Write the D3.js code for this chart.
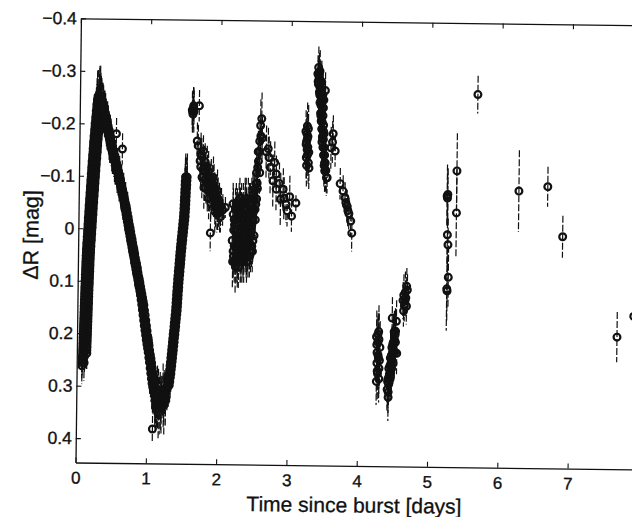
<!DOCTYPE html>
<html>
<head>
<meta charset="utf-8">
<script src="https://cdn.jsdelivr.net/npm/d3@7"></script>
<style>
  body { margin: 0; background: #fff; }
  text { font-family: "Liberation Sans", Arial, Helvetica, sans-serif; fill: #111; }
</style>
</head>
<body>
<svg id="chart" width="632" height="517"></svg>
<script>
// ---------------- DATA (time since burst [days], ΔR [mag], error [mag]) ----------------
const xTicks = [0, 1, 2, 3, 4, 5, 6, 7];
const xLabels = ["0", "1", "2", "3", "4", "5", "6", "7"];
const yTicks = [-0.4, -0.3, -0.2, -0.1, 0, 0.1, 0.2, 0.3, 0.4];
const yLabels = ["\u22120.4", "\u22120.3", "\u22120.2", "\u22120.1", "0", "0.1", "0.2", "0.3", "0.4"];

// first rise (dense, several overlapping runs)
const riseLeft = [
[0.075,0.262,0.035],[0.079,0.250,0.030],[0.082,0.238,0.035],[0.084,0.226,0.030],[0.086,0.214,0.040],[0.088,0.202,0.030],
[0.090,0.190,0.035],[0.092,0.178,0.030],[0.094,0.166,0.040],[0.096,0.154,0.030],[0.098,0.142,0.035],[0.100,0.130,0.030],
[0.102,0.118,0.040],[0.105,0.106,0.035],[0.107,0.094,0.030],[0.110,0.082,0.040],[0.112,0.070,0.035],[0.115,0.058,0.030],
[0.118,0.046,0.040],[0.122,0.034,0.035],[0.127,0.022,0.030],[0.131,0.010,0.040],[0.136,-0.002,0.035],[0.140,-0.014,0.030],
[0.145,-0.026,0.040],[0.149,-0.038,0.035],[0.154,-0.050,0.030],[0.159,-0.062,0.040],[0.164,-0.074,0.035],[0.169,-0.086,0.030],
[0.174,-0.098,0.040],[0.179,-0.110,0.035],[0.184,-0.122,0.030],[0.190,-0.134,0.040],[0.196,-0.146,0.035],[0.201,-0.158,0.040],
[0.207,-0.170,0.035],[0.214,-0.182,0.045],[0.220,-0.194,0.040],[0.227,-0.206,0.045],[0.234,-0.218,0.050],[0.241,-0.230,0.045],
[0.249,-0.242,0.055],[0.257,-0.252,0.050]
];
const riseLeft2 = [
[0.075,0.256,0.030],[0.079,0.244,0.035],[0.082,0.232,0.030],[0.084,0.220,0.040],[0.086,0.208,0.035],[0.088,0.196,0.030],
[0.090,0.184,0.040],[0.092,0.172,0.035],[0.094,0.160,0.030],[0.096,0.148,0.040],[0.098,0.136,0.035],[0.100,0.124,0.030],
[0.102,0.112,0.040],[0.105,0.100,0.035],[0.107,0.088,0.030],[0.110,0.076,0.040],[0.112,0.064,0.035],[0.115,0.052,0.030],
[0.118,0.040,0.040],[0.122,0.028,0.035],[0.127,0.016,0.030],[0.131,0.004,0.040],[0.136,-0.008,0.035],[0.140,-0.020,0.030],
[0.145,-0.032,0.040],[0.149,-0.044,0.035],[0.154,-0.056,0.030],[0.159,-0.068,0.040],[0.164,-0.080,0.035],[0.169,-0.092,0.030],
[0.174,-0.104,0.040],[0.179,-0.116,0.035],[0.184,-0.128,0.040],[0.190,-0.140,0.035],[0.196,-0.152,0.045],[0.201,-0.164,0.040],
[0.207,-0.176,0.045],[0.214,-0.188,0.040],[0.220,-0.200,0.045],[0.227,-0.212,0.050],[0.234,-0.224,0.045],[0.241,-0.236,0.050],
[0.249,-0.246,0.055]
];
const riseMid = [
[0.105,0.256,0.035],[0.109,0.244,0.030],[0.112,0.232,0.040],[0.114,0.220,0.035],[0.116,0.208,0.030],[0.118,0.196,0.040],
[0.120,0.184,0.035],[0.122,0.172,0.030],[0.124,0.160,0.040],[0.126,0.148,0.035],[0.128,0.136,0.030],[0.130,0.124,0.040],
[0.132,0.112,0.035],[0.135,0.100,0.030],[0.137,0.088,0.040],[0.140,0.076,0.035],[0.142,0.064,0.030],[0.145,0.052,0.040],
[0.148,0.040,0.035],[0.152,0.028,0.030],[0.157,0.016,0.040],[0.161,0.004,0.035],[0.166,-0.008,0.030],[0.170,-0.020,0.040],
[0.175,-0.032,0.035],[0.179,-0.044,0.030],[0.184,-0.056,0.040],[0.189,-0.068,0.035],[0.194,-0.080,0.030],[0.199,-0.092,0.040],
[0.204,-0.104,0.035],[0.209,-0.116,0.040],[0.214,-0.128,0.035],[0.220,-0.140,0.045],[0.226,-0.152,0.040],[0.231,-0.164,0.045],
[0.237,-0.176,0.040],[0.244,-0.188,0.045],[0.250,-0.200,0.050],[0.257,-0.212,0.045],[0.264,-0.224,0.050],[0.271,-0.236,0.045],
[0.279,-0.246,0.060]
];
const riseRight = [
[0.142,0.238,0.030],[0.144,0.226,0.035],[0.146,0.214,0.030],[0.148,0.202,0.040],[0.150,0.190,0.035],[0.152,0.178,0.030],
[0.154,0.166,0.040],[0.156,0.154,0.035],[0.158,0.142,0.030],[0.160,0.130,0.040],[0.162,0.118,0.035],[0.165,0.106,0.030],
[0.167,0.094,0.040],[0.170,0.082,0.035],[0.172,0.070,0.030],[0.175,0.058,0.040],[0.178,0.046,0.035],[0.182,0.034,0.030],
[0.187,0.022,0.040],[0.191,0.010,0.035],[0.196,-0.002,0.030],[0.200,-0.014,0.040],[0.205,-0.026,0.035],[0.209,-0.038,0.030],
[0.214,-0.050,0.040],[0.219,-0.062,0.035],[0.224,-0.074,0.040],[0.229,-0.086,0.035],[0.234,-0.098,0.045],[0.239,-0.110,0.040],
[0.244,-0.122,0.045],[0.250,-0.134,0.040],[0.256,-0.146,0.045],[0.261,-0.158,0.040],[0.267,-0.170,0.045],[0.274,-0.182,0.050],
[0.280,-0.194,0.045],[0.287,-0.206,0.050],[0.294,-0.218,0.045],[0.301,-0.230,0.050],[0.309,-0.242,0.045]
];
const riseRight2 = [
[0.142,0.232,0.035],[0.144,0.220,0.030],[0.146,0.208,0.040],[0.148,0.196,0.035],[0.150,0.184,0.030],[0.152,0.172,0.040],
[0.154,0.160,0.035],[0.156,0.148,0.030],[0.158,0.136,0.040],[0.160,0.124,0.035],[0.162,0.112,0.030],[0.165,0.100,0.040],
[0.167,0.088,0.035],[0.170,0.076,0.030],[0.172,0.064,0.040],[0.175,0.052,0.035],[0.178,0.040,0.030],[0.182,0.028,0.040],
[0.187,0.016,0.035],[0.191,0.004,0.030],[0.196,-0.008,0.040],[0.200,-0.020,0.035],[0.205,-0.032,0.030],[0.209,-0.044,0.040],
[0.214,-0.056,0.035],[0.219,-0.068,0.040],[0.224,-0.080,0.035],[0.229,-0.092,0.045],[0.234,-0.104,0.040],[0.239,-0.116,0.045],
[0.244,-0.128,0.040],[0.250,-0.140,0.045],[0.256,-0.152,0.040],[0.261,-0.164,0.045],[0.267,-0.176,0.050],[0.274,-0.188,0.045],
[0.280,-0.200,0.050],[0.287,-0.212,0.045],[0.294,-0.224,0.050],[0.301,-0.236,0.045]
];
const peakPts = [[0.280,-0.250,0.060],[0.290,-0.245,0.065],[0.300,-0.240,0.050],[0.525,-0.181,0.030],[0.613,-0.152,0.030]];

// decline to the minimum
const fallA = [
[0.275,-0.255,0.04],[0.295,-0.247,0.05],[0.315,-0.238,0.04],[0.335,-0.228,0.045],[0.355,-0.215,0.04],[0.375,-0.203,0.035],
[0.395,-0.190,0.04],[0.415,-0.177,0.035],[0.435,-0.165,0.04],[0.455,-0.154,0.035],[0.475,-0.144,0.04],[0.495,-0.134,0.035],
[0.515,-0.124,0.04],[0.535,-0.113,0.03],[0.555,-0.103,0.035],[0.575,-0.092,0.04],[0.595,-0.081,0.03],[0.615,-0.069,0.035],
[0.635,-0.057,0.04],[0.655,-0.042,0.03],[0.675,-0.028,0.035],[0.695,-0.014,0.04],[0.715,0.000,0.03],[0.735,0.014,0.035],
[0.755,0.028,0.04],[0.775,0.042,0.03],[0.795,0.055,0.035],[0.815,0.070,0.04],[0.835,0.083,0.03],[0.855,0.097,0.035],
[0.875,0.111,0.04],[0.895,0.125,0.035],[0.915,0.144,0.04],[0.935,0.164,0.035],[0.955,0.184,0.04],[0.975,0.202,0.035],
[0.995,0.219,0.04],[1.015,0.235,0.045],[1.035,0.254,0.04],[1.055,0.275,0.045],[1.075,0.294,0.05],[1.095,0.308,0.045]
];
const fallA2 = [
[0.285,-0.251,0.045],[0.305,-0.243,0.04],[0.325,-0.233,0.045],[0.345,-0.222,0.04],[0.365,-0.209,0.035],[0.385,-0.197,0.04],
[0.405,-0.184,0.035],[0.425,-0.171,0.04],[0.445,-0.160,0.035],[0.465,-0.149,0.04],[0.485,-0.139,0.035],[0.505,-0.129,0.04],
[0.525,-0.119,0.035],[0.545,-0.108,0.04],[0.565,-0.098,0.03],[0.585,-0.087,0.035],[0.605,-0.075,0.04],[0.625,-0.063,0.03],
[0.645,-0.050,0.035],[0.665,-0.035,0.04],[0.685,-0.021,0.03],[0.705,-0.007,0.035],[0.725,0.007,0.04],[0.745,0.021,0.03],
[0.765,0.035,0.035],[0.785,0.049,0.04],[0.805,0.063,0.03],[0.825,0.077,0.035],[0.845,0.090,0.04],[0.865,0.104,0.035],
[0.885,0.118,0.04],[0.905,0.135,0.035],[0.925,0.154,0.04],[0.945,0.174,0.035],[0.965,0.193,0.04],[0.985,0.211,0.045],
[1.005,0.227,0.04],[1.025,0.245,0.045],[1.045,0.265,0.05],[1.065,0.285,0.045],[1.085,0.301,0.05]
];
const fallMid = [
[0.30,-0.245,0.045],[0.32,-0.237,0.04],[0.34,-0.228,0.035],[0.36,-0.218,0.04],[0.38,-0.205,0.035],[0.40,-0.193,0.04],
[0.42,-0.180,0.035],[0.44,-0.167,0.04],[0.46,-0.155,0.035],[0.48,-0.144,0.04],[0.50,-0.134,0.035],[0.52,-0.124,0.04],
[0.54,-0.114,0.035],[0.56,-0.103,0.04],[0.58,-0.093,0.035],[0.60,-0.082,0.04],[0.62,-0.071,0.035],[0.64,-0.059,0.04],
[0.66,-0.047,0.035],[0.68,-0.032,0.04],[0.70,-0.018,0.035],[0.72,-0.004,0.04],[0.74,0.010,0.035],[0.76,0.024,0.04],
[0.78,0.038,0.035],[0.80,0.052,0.04],[0.82,0.065,0.035],[0.84,0.080,0.04],[0.86,0.093,0.035],[0.88,0.107,0.04],
[0.90,0.121,0.035],[0.92,0.135,0.04],[0.94,0.154,0.035],[0.96,0.174,0.04],[0.98,0.194,0.035],[1.00,0.212,0.04],
[1.02,0.229,0.045],[1.04,0.245,0.04],[1.06,0.264,0.045],[1.08,0.285,0.05],[1.10,0.304,0.045],[1.12,0.318,0.05]
];
const fallB = [
[0.325,-0.235,0.04],[0.345,-0.227,0.035],[0.365,-0.218,0.04],[0.385,-0.208,0.035],[0.405,-0.195,0.04],[0.425,-0.183,0.035],
[0.445,-0.170,0.04],[0.465,-0.157,0.035],[0.485,-0.145,0.04],[0.505,-0.134,0.03],[0.525,-0.124,0.035],[0.545,-0.114,0.04],
[0.565,-0.104,0.03],[0.585,-0.093,0.035],[0.605,-0.083,0.04],[0.625,-0.072,0.03],[0.645,-0.061,0.035],[0.665,-0.049,0.04],
[0.685,-0.037,0.03],[0.705,-0.022,0.035],[0.725,-0.008,0.04],[0.745,0.006,0.03],[0.765,0.020,0.035],[0.785,0.034,0.04],
[0.805,0.048,0.03],[0.825,0.062,0.035],[0.845,0.075,0.04],[0.865,0.090,0.035],[0.885,0.103,0.04],[0.905,0.117,0.035],
[0.925,0.131,0.04],[0.945,0.145,0.035],[0.965,0.164,0.04],[0.985,0.184,0.045],[1.005,0.204,0.04],[1.025,0.222,0.045],
[1.045,0.239,0.04],[1.065,0.255,0.05],[1.085,0.274,0.045],[1.105,0.295,0.05],[1.125,0.314,0.045],[1.145,0.328,0.05]
];
const fallB2 = [
[0.335,-0.231,0.035],[0.355,-0.223,0.04],[0.375,-0.213,0.035],[0.395,-0.202,0.04],[0.415,-0.189,0.035],[0.435,-0.177,0.04],
[0.455,-0.164,0.035],[0.475,-0.151,0.04],[0.495,-0.140,0.035],[0.515,-0.129,0.04],[0.535,-0.119,0.03],[0.555,-0.109,0.035],
[0.575,-0.099,0.04],[0.595,-0.088,0.03],[0.615,-0.078,0.035],[0.635,-0.067,0.04],[0.655,-0.055,0.03],[0.675,-0.043,0.035],
[0.695,-0.030,0.04],[0.715,-0.015,0.03],[0.735,-0.001,0.035],[0.755,0.013,0.04],[0.775,0.027,0.03],[0.795,0.041,0.035],
[0.815,0.055,0.04],[0.835,0.069,0.035],[0.855,0.083,0.04],[0.875,0.097,0.035],[0.895,0.110,0.04],[0.915,0.124,0.035],
[0.935,0.138,0.04],[0.955,0.155,0.035],[0.975,0.174,0.04],[0.995,0.194,0.045],[1.015,0.213,0.04],[1.035,0.231,0.045],
[1.055,0.247,0.04],[1.075,0.265,0.05],[1.095,0.285,0.045],[1.115,0.305,0.05],[1.135,0.321,0.045]
];
const minimumPts = [
[1.10,0.310,0.04],[1.12,0.325,0.05],[1.14,0.318,0.04],[1.16,0.330,0.05],[1.18,0.322,0.04],[1.20,0.334,0.05],
[1.22,0.320,0.04],[1.24,0.328,0.05],[1.26,0.312,0.04],[1.28,0.303,0.04],[1.11,0.300,0.04],[1.15,0.305,0.045],
[1.19,0.312,0.04],[1.23,0.306,0.05],[1.13,0.338,0.05],[1.17,0.342,0.06],[1.21,0.340,0.05],[1.25,0.335,0.06],
[1.27,0.325,0.05],[1.165,0.316,0.05],[1.205,0.324,0.045],[1.245,0.318,0.05],[1.14,0.332,0.05],[1.185,0.336,0.055],
[1.092,0.276,0.03],[1.120,0.289,0.03],[1.088,0.381,0.025]
];

// second rise
const riseC1 = [
[1.290,0.305,0.04],[1.303,0.290,0.035],[1.317,0.275,0.04],[1.328,0.260,0.035],[1.338,0.245,0.04],[1.348,0.230,0.035],
[1.358,0.215,0.04],[1.367,0.200,0.035],[1.377,0.185,0.04],[1.386,0.170,0.035],[1.396,0.155,0.04],[1.402,0.140,0.035],
[1.408,0.125,0.04],[1.414,0.110,0.035],[1.421,0.095,0.04],[1.429,0.080,0.035],[1.437,0.065,0.04],[1.445,0.050,0.035],
[1.454,0.035,0.04],[1.463,0.020,0.035],[1.473,0.005,0.04],[1.483,-0.010,0.035],[1.493,-0.025,0.04],[1.498,-0.040,0.035],
[1.502,-0.055,0.04],[1.506,-0.070,0.035],[1.510,-0.085,0.04],[1.515,-0.100,0.045]
];
const riseCL2 = [
[1.296,0.298,0.035],[1.310,0.283,0.04],[1.322,0.268,0.035],[1.333,0.253,0.04],[1.343,0.238,0.035],[1.353,0.223,0.04],
[1.362,0.208,0.035],[1.372,0.193,0.04],[1.381,0.178,0.035],[1.391,0.163,0.04],[1.399,0.148,0.035],[1.405,0.133,0.04],
[1.411,0.118,0.035],[1.418,0.103,0.04],[1.425,0.088,0.035],[1.433,0.073,0.04],[1.441,0.058,0.035],[1.449,0.043,0.04],
[1.458,0.028,0.035],[1.468,0.013,0.04],[1.478,-0.002,0.035],[1.488,-0.017,0.04],[1.495,-0.032,0.035],[1.500,-0.047,0.04],
[1.504,-0.062,0.035],[1.508,-0.077,0.04],[1.512,-0.092,0.045]
];
const riseCMid = [
[1.308,0.298,0.04],[1.322,0.283,0.035],[1.334,0.268,0.04],[1.345,0.253,0.035],[1.355,0.238,0.04],[1.365,0.223,0.035],
[1.374,0.208,0.04],[1.384,0.193,0.035],[1.393,0.178,0.04],[1.403,0.163,0.035],[1.411,0.148,0.04],[1.417,0.133,0.035],
[1.423,0.118,0.04],[1.430,0.103,0.035],[1.437,0.088,0.04],[1.445,0.073,0.035],[1.453,0.058,0.04],[1.461,0.043,0.035],
[1.470,0.028,0.04],[1.480,0.013,0.035],[1.490,-0.002,0.04],[1.500,-0.017,0.035],[1.507,-0.032,0.04],[1.512,-0.047,0.035],
[1.516,-0.062,0.04],[1.520,-0.077,0.035],[1.524,-0.092,0.045]
];
const riseC2 = [
[1.320,0.297,0.035],[1.334,0.282,0.04],[1.346,0.267,0.035],[1.357,0.252,0.04],[1.367,0.237,0.035],[1.377,0.222,0.04],
[1.386,0.207,0.035],[1.396,0.192,0.04],[1.405,0.177,0.035],[1.415,0.162,0.04],[1.423,0.147,0.035],[1.429,0.132,0.04],
[1.435,0.117,0.035],[1.441,0.102,0.04],[1.449,0.087,0.035],[1.457,0.072,0.04],[1.465,0.057,0.035],[1.473,0.042,0.04],
[1.482,0.027,0.035],[1.492,0.012,0.04],[1.502,-0.003,0.035],[1.512,-0.018,0.04],[1.519,-0.033,0.035],[1.524,-0.048,0.04],
[1.528,-0.063,0.035],[1.532,-0.078,0.04],[1.536,-0.093,0.045]
];
const riseCR2 = [
[1.327,0.290,0.04],[1.341,0.275,0.035],[1.352,0.260,0.04],[1.362,0.245,0.035],[1.372,0.230,0.04],[1.382,0.215,0.035],
[1.391,0.200,0.04],[1.401,0.185,0.035],[1.410,0.170,0.04],[1.420,0.155,0.035],[1.426,0.140,0.04],[1.432,0.125,0.035],
[1.438,0.110,0.04],[1.445,0.095,0.035],[1.453,0.080,0.04],[1.461,0.065,0.035],[1.469,0.050,0.04],[1.478,0.035,0.035],
[1.487,0.020,0.04],[1.497,0.005,0.035],[1.507,-0.010,0.04],[1.517,-0.025,0.035],[1.522,-0.040,0.04],[1.526,-0.055,0.035],
[1.530,-0.070,0.04],[1.534,-0.085,0.035],[1.539,-0.100,0.045]
];

// later nights
const night2 = [
[1.600,-0.228,0.035],[1.605,-0.225,0.04],[1.610,-0.220,0.035],[1.615,-0.232,0.04],[1.620,-0.236,0.035],[1.625,-0.225,0.04],
[1.700,-0.236,0.03],[1.676,-0.169,0.035],[1.690,-0.160,0.04],[1.720,-0.131,0.04],[1.730,-0.120,0.04],[1.740,-0.140,0.035],
[1.750,-0.100,0.04],[1.764,-0.150,0.03],[1.780,-0.120,0.04],[1.780,-0.080,0.04],[1.790,-0.095,0.04],[1.800,-0.110,0.035],
[1.820,-0.120,0.04],[1.825,-0.103,0.04],[1.830,-0.075,0.04],[1.840,-0.090,0.035],[1.850,-0.060,0.04],[1.860,-0.075,0.04],
[1.870,-0.085,0.04],[1.878,0.006,0.035],[1.880,-0.095,0.04],[1.880,-0.050,0.035],[1.900,-0.084,0.04],[1.910,-0.100,0.04],
[1.920,-0.060,0.035],[1.930,-0.070,0.04],[1.940,-0.035,0.04],[1.945,-0.065,0.04],[1.950,-0.045,0.04],[1.960,-0.050,0.035],
[1.970,-0.075,0.04],[1.970,-0.030,0.035],[1.980,-0.060,0.04],[1.990,-0.046,0.04],[2.000,-0.055,0.035],[2.010,-0.035,0.04],
[2.020,-0.025,0.03],[2.030,-0.045,0.035],[2.050,-0.038,0.03],[2.087,-0.043,0.02],
[1.730,-0.145,0.04],[1.760,-0.115,0.04],[1.790,-0.130,0.035],[1.810,-0.090,0.04],[1.840,-0.110,0.04],[1.860,-0.095,0.035],
[1.890,-0.070,0.04],[1.920,-0.085,0.04],[1.950,-0.070,0.035],[1.980,-0.040,0.04],[2.000,-0.035,0.035]
];
const night3 = [
[2.19,0.02,0.04],[2.20,-0.03,0.05],[2.21,0.05,0.04],[2.22,-0.01,0.04],[2.23,0.03,0.05],[2.24,-0.05,0.04],
[2.25,0.06,0.04],[2.26,0.01,0.05],[2.27,-0.03,0.04],[2.28,0.04,0.04],[2.29,-0.06,0.04],[2.30,0.02,0.05],
[2.31,0.06,0.04],[2.32,-0.02,0.04],[2.33,0.03,0.05],[2.34,-0.05,0.04],[2.35,0.05,0.04],[2.36,0.00,0.04],
[2.37,-0.04,0.05],[2.38,0.04,0.04],[2.39,-0.01,0.05],[2.40,0.06,0.04],[2.41,-0.06,0.04],[2.42,0.02,0.04],
[2.43,-0.03,0.05],[2.44,0.05,0.04],[2.45,0.00,0.04],[2.46,-0.05,0.05],[2.47,0.03,0.04],[2.48,-0.02,0.05],
[2.49,-0.07,0.04],[2.50,0.01,0.04],[2.51,-0.04,0.04],[2.52,-0.09,0.05],[2.53,-0.06,0.04],[2.54,-0.12,0.04],
[2.55,-0.132,0.05],[2.56,-0.15,0.04],[2.57,-0.11,0.04],[2.58,-0.18,0.04],[2.59,-0.213,0.05],[2.60,-0.176,0.04]
];
const night3b = [
[2.195,-0.05,0.04],[2.205,0.04,0.05],[2.215,-0.02,0.04],[2.225,0.06,0.04],[2.235,0.00,0.05],[2.245,0.03,0.04],
[2.255,-0.04,0.04],[2.265,0.05,0.05],[2.275,-0.01,0.04],[2.285,0.07,0.04],[2.295,-0.03,0.05],[2.305,0.04,0.04],
[2.315,-0.05,0.04],[2.325,0.01,0.05],[2.335,0.06,0.04],[2.345,-0.02,0.04],[2.355,0.03,0.05],[2.365,-0.06,0.04],
[2.375,0.02,0.04],[2.385,-0.03,0.05],[2.395,0.05,0.04],[2.405,-0.01,0.04],[2.415,0.03,0.05],[2.425,-0.05,0.04],
[2.435,0.01,0.04],[2.445,-0.03,0.05],[2.455,0.04,0.04],[2.465,-0.01,0.04],[2.475,-0.06,0.05],[2.485,0.02,0.04],
[2.495,-0.04,0.04],[2.505,-0.08,0.05],[2.515,-0.02,0.04],[2.525,-0.11,0.04],[2.535,-0.09,0.05],[2.545,-0.15,0.04],
[2.565,-0.17,0.04],[2.575,-0.20,0.05]
];
const night3c = [
[2.20,0.06,0.05],[2.21,0.00,0.04],[2.22,0.03,0.05],[2.23,-0.04,0.04],[2.24,0.07,0.05],[2.25,-0.02,0.04],
[2.26,0.04,0.04],[2.27,0.06,0.05],[2.28,-0.05,0.04],[2.29,0.02,0.05],[2.30,-0.04,0.04],[2.31,0.00,0.04],
[2.32,0.05,0.05],[2.33,-0.03,0.04],[2.34,0.02,0.04],[2.35,-0.01,0.05],[2.36,0.06,0.04],[2.37,0.01,0.04],
[2.38,-0.05,0.05],[2.39,0.03,0.04],[2.40,-0.03,0.04],[2.41,0.01,0.05],[2.42,0.05,0.04],[2.43,0.00,0.04],
[2.44,-0.04,0.05],[2.45,0.03,0.04],[2.46,0.01,0.04],[2.47,-0.03,0.05],[2.48,0.04,0.04],[2.50,-0.06,0.04],
[2.52,-0.05,0.04],[2.54,-0.08,0.05]
];
const night4 = [
[2.66,-0.150,0.05],[2.687,-0.156,0.04],[2.70,-0.139,0.04],[2.72,-0.120,0.05],[2.76,-0.095,0.05],[2.78,-0.130,0.04],
[2.805,-0.108,0.035],[2.807,-0.079,0.04],[2.85,-0.090,0.04],[2.87,-0.060,0.05],[2.906,-0.079,0.04],[2.92,-0.062,0.04],
[2.95,-0.050,0.035],[2.967,-0.038,0.03],[3.00,-0.065,0.04],[3.03,-0.028,0.03],[3.09,-0.053,0.015]
];
const night5 = [
[3.22,-0.190,0.04],[3.23,-0.170,0.045],[3.24,-0.155,0.04],[3.25,-0.180,0.04],[3.23,-0.140,0.04],
[3.24,-0.200,0.045],[3.26,-0.130,0.04],[3.25,-0.160,0.04],[3.27,-0.120,0.04],[3.24,-0.175,0.035],
[3.225,-0.165,0.04],[3.235,-0.185,0.04],[3.245,-0.145,0.04],[3.255,-0.195,0.045],[3.235,-0.125,0.04],[3.265,-0.150,0.04]
];
const night6 = [
[3.38,-0.300,0.035],[3.39,-0.312,0.04],[3.40,-0.290,0.035],[3.41,-0.305,0.04],[3.41,-0.275,0.035],[3.42,-0.285,0.04],
[3.42,-0.258,0.04],[3.43,-0.270,0.035],[3.43,-0.240,0.04],[3.44,-0.252,0.045],[3.44,-0.225,0.04],[3.45,-0.236,0.04],
[3.45,-0.208,0.04],[3.46,-0.220,0.045],[3.46,-0.192,0.04],[3.47,-0.202,0.04],[3.47,-0.175,0.04],[3.48,-0.186,0.04],
[3.48,-0.160,0.04],[3.49,-0.268,0.035],[3.49,-0.145,0.045],[3.50,-0.130,0.04],[3.51,-0.116,0.04],[3.52,-0.102,0.035],
[3.53,-0.102,0.03],[3.47,-0.250,0.04],[3.45,-0.170,0.04],
[3.385,-0.285,0.04],[3.395,-0.295,0.035],[3.405,-0.265,0.04],[3.415,-0.245,0.04],[3.425,-0.225,0.045],[3.435,-0.210,0.04],
[3.445,-0.195,0.04],[3.455,-0.180,0.045],[3.465,-0.160,0.04],[3.475,-0.145,0.04],[3.485,-0.125,0.04],[3.495,-0.115,0.04],
[3.435,-0.285,0.04],[3.455,-0.260,0.04],[3.465,-0.235,0.045],
[3.39,-0.280,0.04],[3.40,-0.300,0.04],[3.41,-0.260,0.045],[3.42,-0.270,0.04],[3.43,-0.250,0.04],[3.44,-0.210,0.045],
[3.45,-0.195,0.04],[3.46,-0.175,0.04],[3.47,-0.190,0.045],[3.48,-0.145,0.04],[3.49,-0.130,0.04],[3.50,-0.115,0.04],
[3.44,-0.270,0.04],[3.46,-0.250,0.04],[3.43,-0.220,0.04],[3.47,-0.160,0.04]
];
const night7 = [[3.608,-0.186,0.035],[3.58,-0.159,0.04],[3.64,-0.153,0.03],[3.60,-0.170,0.04]];
const night8 = [
[3.716,-0.091,0.03],[3.758,-0.077,0.03],[3.787,-0.064,0.03],[3.816,-0.049,0.03],[3.845,-0.034,0.03],
[3.873,-0.020,0.03],[3.890,0.003,0.035],[3.800,-0.055,0.025],[3.830,-0.040,0.03]
];
const night9 = [
[4.26,0.200,0.05],[4.27,0.230,0.05],[4.27,0.250,0.045],[4.28,0.210,0.05],[4.28,0.270,0.05],[4.29,0.240,0.045],
[4.29,0.190,0.05],[4.30,0.260,0.05],[4.30,0.280,0.045],[4.31,0.220,0.05],[4.28,0.195,0.04],
[4.265,0.215,0.05],[4.275,0.265,0.045],[4.285,0.235,0.05],[4.295,0.205,0.05],[4.305,0.245,0.05],[4.265,0.285,0.045]
];
const night10 = [
[4.42,0.300,0.04],[4.43,0.280,0.05],[4.44,0.290,0.04],[4.44,0.260,0.05],[4.45,0.270,0.04],[4.46,0.240,0.05],
[4.46,0.280,0.04],[4.47,0.250,0.05],[4.48,0.220,0.04],[4.48,0.260,0.05],[4.49,0.230,0.04],[4.50,0.210,0.05],
[4.50,0.250,0.04],[4.51,0.190,0.04],[4.52,0.230,0.05],[4.53,0.189,0.04],[4.53,0.210,0.04],[4.54,0.170,0.04],
[4.55,0.231,0.04],[4.48,0.164,0.04],
[4.425,0.285,0.05],[4.435,0.305,0.04],[4.445,0.275,0.05],[4.455,0.255,0.04],[4.465,0.265,0.05],[4.475,0.235,0.04],
[4.485,0.245,0.05],[4.495,0.215,0.04],[4.505,0.225,0.05],[4.515,0.205,0.04],[4.525,0.195,0.05],[4.435,0.315,0.045]
];
const night11 = [
[4.63,0.130,0.035],[4.64,0.120,0.04],[4.65,0.140,0.03],[4.66,0.115,0.04],[4.67,0.125,0.035],
[4.68,0.103,0.035],[4.68,0.141,0.035],[4.66,0.130,0.03],[4.69,0.110,0.03],[4.64,0.150,0.03]
];
const night12 = [
[5.240,-0.070,0.06],[5.245,-0.066,0.05],[5.250,-0.073,0.05],[5.250,0.004,0.06],[5.260,0.023,0.05],
[5.270,0.085,0.06],[5.250,0.107,0.08],[5.255,0.111,0.06],[5.375,-0.118,0.072],[5.375,-0.038,0.085]
];
const latePts = [
[5.66,-0.264,0.036],[6.26,-0.081,0.078],[6.67,-0.090,0.038],[6.89,0.005,0.040],[7.68,0.195,0.048],[7.915,0.155,0.035]
];

// ---------------- DRAWING ----------------
const L = 75.5, B = 462.5, T = 18.3;
const x = d3.scaleLinear().domain([0, 8]).range([L, L + 8 * 70.3]);
const y = d3.scaleLinear().domain([-0.4, 0.4465]).range([T, B]);

const svg = d3.select("#chart");
svg.append("rect").attr("width", 632).attr("height", 517).attr("fill", "#fff");
const g = svg.append("g").attr("transform", `rotate(0.7, ${L}, ${B})`);

const segments = [riseLeft, riseLeft2, riseMid, riseRight, riseRight2, peakPts,
  fallA, fallA2, fallMid, fallB, fallB2, minimumPts,
  riseC1, riseCL2, riseCMid, riseC2, riseCR2, night2, night3, night3b, night3c, night4, night5, night6, night7, night8,
  night9, night10, night11, night12, latePts];
const pts = segments.flat().map(d => ({ t: d[0], v: d[1], e: d[2] }));

const plot = g.append("g");
plot.selectAll("line.err").data(pts).join("line").attr("class", "err")
  .attr("x1", d => x(d.t)).attr("x2", d => x(d.t))
  .attr("y1", d => y(d.v - d.e)).attr("y2", d => y(d.v + d.e))
  .attr("stroke", "#111").attr("stroke-width", 1.2).attr("stroke-dasharray", "7,2");
plot.selectAll("circle.pt").data(pts).join("circle").attr("class", "pt")
  .attr("cx", d => x(d.t)).attr("cy", d => y(d.v)).attr("r", 3.4)
  .attr("fill", "none").attr("stroke", "#111").attr("stroke-width", 2.2);

// axes
const axB = d3.axisBottom(x).tickValues(xTicks).tickFormat((d, i) => xLabels[i])
  .tickSizeInner(-5).tickSizeOuter(0).tickPadding(9);
const axT = d3.axisTop(x).tickValues(xTicks).tickFormat("")
  .tickSizeInner(-5).tickSizeOuter(0);
const axL = d3.axisLeft(y).tickValues(yTicks).tickFormat((d, i) => yLabels[i])
  .tickSizeInner(-5).tickSizeOuter(0).tickPadding(4);

const gB = g.append("g").attr("transform", `translate(0,${B})`).call(axB);
const gT = g.append("g").attr("transform", `translate(0,${T})`).call(axT);
const gL = g.append("g").attr("transform", `translate(${L},0)`).call(axL);

[gB, gT, gL].forEach(a => {
  a.select(".domain").attr("stroke", "#111").attr("stroke-width", 1.3);
  a.selectAll(".tick line").attr("stroke", "#111").attr("stroke-width", 1.1);
  a.selectAll(".tick text").attr("font-size", 17.5)
    .attr("font-family", "'Liberation Sans', Arial, sans-serif")
    .attr("fill", "#111").attr("stroke", "#111").attr("stroke-width", 0.35);
});
gB.selectAll(".tick text").attr("font-size", 17);

g.append("text").attr("x", 354.5).attr("y", 509).attr("text-anchor", "middle")
  .attr("font-size", 21).attr("stroke", "#111").attr("stroke-width", 0.3)
  .text("Time since burst [days]");

g.append("text").attr("transform", "translate(35.5,235.5) rotate(-90)")
  .attr("text-anchor", "middle").attr("font-size", 21.5)
  .attr("stroke", "#111").attr("stroke-width", 0.3)
  .text("\u0394R [mag]");
</script>
</body>
</html>
